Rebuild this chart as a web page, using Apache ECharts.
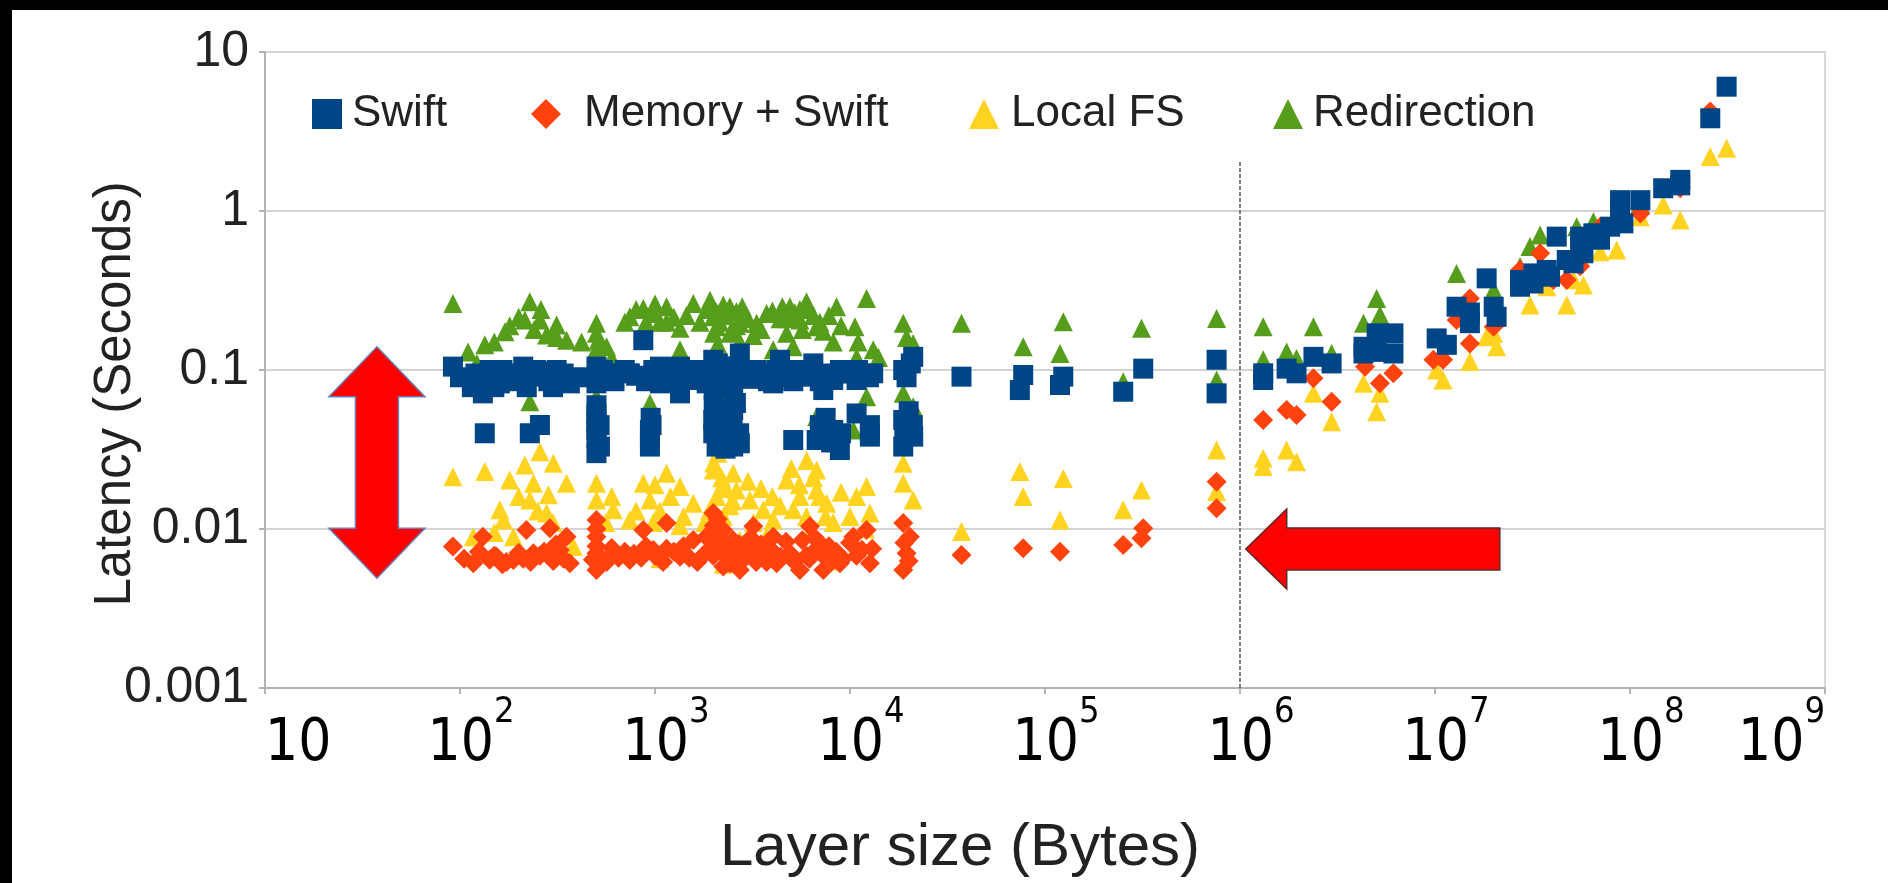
<!DOCTYPE html>
<html><head><meta charset="utf-8">
<script src="https://cdn.jsdelivr.net/npm/echarts@6/dist/echarts.min.js"></script>
<style>html,body{margin:0;padding:0;background:#fff;}#c{width:1888px;height:883px;}</style>
</head><body><div id="c"></div>
<script>
// ---------- data (x = layer size in bytes, y = latency in seconds) ----------
const seriesNames = ['Swift', 'Memory + Swift', 'Local FS', 'Redirection'];
const xTickBase = '10';
const xTickExponents = [1, 2, 3, 4, 5, 6, 7, 8, 9];
const yTickLabels = ['0.001', '0.01', '0.1', '1', '10'];

const swift = [
  [92,0.105],[126,0.0824],[142,0.1],[173,0.0908],[211,0.105],[257,0.0908],[313,0.1],[366,0.0824],[131,0.0713],[160,0.0824],
  [501,0.105],[501,0.0824],[565,0.0953],[743,0.0953],[871,0.154],[980,0.1],[1146,0.0908],[1343,0.105],[1572,0.0865],[1343,0.0713],
  [1990,0.116],[2239,0.0953],[2518,0.105],[2723,0.127],[3319,0.1],[4036,0.0824],[4920,0.1],[5984,0.0908],[7295,0.0748],[8872,0.1],
  [10810,0.0865],[13150,0.0953],[18750,0.1],[21090,0.121],[4375,0.116],[6486,0.11],[8204,0.0865],[1060,0.0824],[1841,0.0824],
  [160,0.095],[188,0.085],[238,0.092],[284,0.085],[330,0.09],[1300,0.095],[1572,0.1],[2070,0.09],[2421,0.085],[3069,0.088],
  [3589,0.095],[5117,0.085],[7015,0.095],[2239,0.075],[2518,0.08],[1060,0.105],
  [100,0.09],[115,0.078],[120,0.095],[150,0.078],[165,0.1],[195,0.095],[220,0.078],[245,0.1],[270,0.098],[300,0.078],
  [340,0.095],[400,0.09],[520,0.09],[540,0.1],[620,0.085],[700,0.1],[800,0.092],[900,0.085],[1000,0.092],[1100,0.098],
  [1200,0.085],[1400,0.09],[1700,0.092],[1900,0.1],[2000,0.075],[2100,0.11],[2300,0.085],[2400,0.105],[2600,0.092],[2800,0.1],
  [3000,0.1],[3300,0.09],[3800,0.085],[4200,0.1],[4500,0.092],[5000,0.09],[5500,0.1],[6000,0.1],[6500,0.092],[7000,0.085],
  [7800,0.09],[9500,0.095],[11000,0.1],[12500,0.09],[19500,0.09],[20500,0.11],
  [134,0.04],[228,0.04],[257,0.0451],[501,0.0533],[501,0.042],[522,0.033],[942,0.042],[942,0.033],[1990,0.0485],[2239,0.0381],
  [2518,0.056],[2723,0.0346],[2070,0.033],[5117,0.0363],[6745,0.0363],[8204,0.042],[8872,0.0314],[10810,0.0533],[12650,0.0381],
  [18750,0.0485],[21090,0.0381],[18750,0.033],[501,0.037],[501,0.047],[1990,0.04],[2239,0.045],[2518,0.033],[2070,0.055],
  [12650,0.045],[942,0.037],
  [501,0.03],[501,0.06],[520,0.045],[2000,0.06],[2100,0.036],[2200,0.05],[2300,0.032],[2400,0.04],[2500,0.047],[2600,0.062],
  [2700,0.04],[7000,0.045],[7500,0.05],[9000,0.04],[8000,0.035],[19000,0.04],[20000,0.055],[21000,0.045],[950,0.05],[960,0.045],
  [12650,0.04],
  [37300,0.0908],[77300,0.093],[74300,0.0748],[124100,0.0908],[119400,0.0805],[319000,0.102],[251800,0.073],[758600,0.116],
  [758600,0.0713],[1315000,0.0953],[1315000,0.0865],[1734000,0.102],[1950000,0.0953],
  [2380000,0.121],[2950000,0.11],[4300000,0.14],[5020000,0.17],[6120000,0.17],[6120000,0.127],[10200000,0.158],[11500000,0.144],
  [12900000,0.25],[15100000,0.197],[18400000,0.377],[20000000,0.25],[20700000,0.216],[27300000,0.368],[32000000,0.405],
  [37400000,0.426],[42100000,0.69],[47400000,0.492],[55500000,0.597],[55500000,0.69],[64900000,0.724],[79100000,0.797],
  [88900000,1.17],[88900000,0.92],[113000000,1.17],[148000000,1.39],[181000000,1.57],[258000000,3.83],[313000000,6.05],
  [38900000,0.386],[51300000,0.469],[92500000,0.836],[4300000,0.127],[5020000,0.13],[27300000,0.334],[32000000,0.35],
  [57700000,0.542],[70200000,0.66],[181000000,1.45],[15100000,0.23]
];

const memorySwift = [
  [92,0.00775],[117,0.00608],[131,0.00895],[154,0.0067],[188,0.00638],[219,0.00986],[238,0.00703],[289,0.0101],[325,0.00738],
  [366,0.00608],[352,0.00895],[501,0.0114],[501,0.00895],[501,0.00703],[501,0.00552],[611,0.00703],[743,0.00638],[871,0.00986],
  [980,0.00738],[1146,0.0109],[1343,0.0067],[1572,0.00853],[1990,0.0126],[2239,0.00986],[2070,0.00775],[2421,0.00608],
  [2723,0.00552],[3192,0.0104],[3452,0.00703],[4036,0.00895],[4920,0.00703],[5534,0.00552],[6237,0.0104],[7015,0.00813],
  [7295,0.00552],[8872,0.00608],[10400,0.00895],[12160,0.00986],[12650,0.00608],[18750,0.0109],[20280,0.00895],[19500,0.00703],
  [18750,0.00552],[4204,0.00608],[8204,0.00638],
  [142,0.0064],[173,0.0062],[211,0.0065],[257,0.0068],[301,0.0063],[1060,0.0065],[1146,0.0075],[1841,0.009],[1990,0.0068],
  [2239,0.0058],[2518,0.0085],[3069,0.0078],[3733,0.0062],[5984,0.0068],[6745,0.0075],[10810,0.0068],[565,0.0062],[871,0.0072],
  [105,0.0065],[125,0.0072],[150,0.0068],[165,0.006],[200,0.0071],[230,0.0062],[270,0.0072],[310,0.008],[340,0.0065],[480,0.0064],
  [501,0.0078],[501,0.01],[520,0.0062],[600,0.0076],[650,0.0066],[700,0.0072],[780,0.007],[850,0.0066],[900,0.0078],[1000,0.0068],
  [1100,0.0062],[1250,0.0072],[1400,0.0078],[1500,0.0066],[1650,0.0062],[1800,0.007],[1900,0.0085],[2000,0.0105],[2050,0.0095],
  [2100,0.0115],[2150,0.0088],[2200,0.0078],[2300,0.0068],[2400,0.0074],[2500,0.0063],[2600,0.007],[2700,0.008],[2900,0.0066],
  [3100,0.0088],[3300,0.0062],[3500,0.008],[3900,0.0075],[4400,0.0067],[4700,0.0083],[5200,0.0062],[5700,0.0085],[6200,0.0065],
  [6600,0.0088],[7200,0.0069],[7800,0.0078],[8500,0.0072],[9200,0.0065],[10000,0.0082],[11500,0.0074],[13000,0.0075],
  [19000,0.0082],[20000,0.0063],
  [37300,0.00686],[77300,0.00756],[119400,0.0072],[251800,0.00793],[319000,0.0101],[312600,0.00876],[758600,0.0198],
  [758600,0.0135],[1315000,0.0485],[1734000,0.056],[1950000,0.0522],
  [2380000,0.0887],[2950000,0.0632],[4380000,0.105],[5220000,0.0824],[6120000,0.0953],[9820000,0.116],[11000000,0.116],
  [12900000,0.206],[15100000,0.282],[15100000,0.147],[20000000,0.187],[34600000,0.542],[40500000,0.368],[47400000,0.368],
  [70200000,0.797],[113000000,0.966],[181000000,1.39],[258000000,4.22],[27300000,0.426],[55500000,0.45]
];

const localFS = [
  [92,0.0213],[134,0.023],[180,0.0203],[215,0.0253],[257,0.0306],[301,0.0259],[352,0.0194],[238,0.0194],[228,0.0152],[284,0.0164],
  [160,0.0132],[167,0.0114],[278,0.0126],[501,0.0194],[501,0.0152],[611,0.0132],[743,0.0114],[871,0.0194],[1146,0.0224],
  [942,0.0152],[1343,0.0185],[1572,0.0145],[1990,0.0235],[2239,0.0194],[2518,0.0224],[2618,0.0176],[3069,0.0152],[3589,0.0132],
  [4732,0.0203],[6745,0.0235],[6745,0.0176],[7586,0.0145],[10810,0.016],[12160,0.0185],[12650,0.0126],[18750,0.0259],
  [18750,0.0194],[21090,0.0152],[117,0.00895],[188,0.00895],[381,0.00775],[4036,0.0114],[5117,0.0132],
  [2070,0.016],[2421,0.014],[1060,0.013],[2239,0.012],[5534,0.016],[5984,0.012],[8204,0.011],[3192,0.011],[6237,0.0095],
  [980,0.011],[1343,0.0105],[2723,0.0085],[3733,0.009],[4375,0.014],[1060,0.0065],[2239,0.006],[8204,0.0063],
  [2000,0.026],[2100,0.03],[2200,0.021],[2300,0.018],[1900,0.013],[2500,0.015],[6000,0.027],[6500,0.021],[7000,0.016],
  [7500,0.012],[5000,0.024],[5500,0.019],[1000,0.019],[1200,0.016],[1400,0.012],[1800,0.011],[800,0.013],[600,0.016],
  [560,0.011],[300,0.011],[250,0.013],[200,0.016],[150,0.0095],[3500,0.018],[4000,0.016],[3000,0.02],[9000,0.017],
  [10000,0.012],[12000,0.01],
  [37300,0.00963],[74300,0.023],[77300,0.016],[124100,0.0208],[119400,0.0114],[312600,0.0176],[251800,0.0132],[758600,0.0314],
  [758600,0.0172],[1315000,0.0279],[1315000,0.0247],[1734000,0.0314],[1950000,0.0265],
  [2380000,0.0713],[2950000,0.0473],[4300000,0.0824],[5020000,0.0547],[5220000,0.0713],[10200000,0.1],[11000000,0.0865],
  [15100000,0.113],[18400000,0.162],[20700000,0.14],[30700000,0.256],[37400000,0.334],[47400000,0.256],[57700000,0.343],
  [70200000,0.555],[85500000,0.569],[113000000,0.92],[148000000,1.09],[181000000,0.877],[258000000,2.2],[313000000,2.48],
  [20000000,0.17],[51300000,0.37]
];

const redirection = [
  [92,0.262],[228,0.269],[134,0.144],[170,0.174],[215,0.206],[257,0.206],[313,0.192],[278,0.166],[352,0.154],[501,0.197],
  [511,0.154],[599,0.118],[743,0.216],[871,0.244],[980,0.227],[1146,0.25],[1343,0.183],[1572,0.262],[1914,0.275],[2239,0.256],
  [2618,0.233],[2070,0.187],[2421,0.17],[3319,0.197],[3733,0.227],[4920,0.25],[5984,0.269],[5534,0.206],[6745,0.187],[8531,0.25],
  [10600,0.187],[12160,0.282],[13150,0.134],[18750,0.197],[21090,0.147],
  [228,0.0632],[942,0.0617],[6745,0.0508],[12160,0.068],[18750,0.0713],[21090,0.0588],[2518,0.0713],[10400,0.042],[122,0.11],
  [501,0.068],[1343,0.134],[4036,0.134],[5117,0.14],
  [1990,0.216],[2723,0.197],[2070,0.23],[2618,0.19],[3192,0.165],[4375,0.21],[5534,0.24],[6486,0.22],[7295,0.175],[1060,0.2],
  [313,0.16],[180,0.19],[1146,0.2],[1841,0.24],[2421,0.25],[565,0.14],[2723,0.15],[4732,0.17],[8204,0.15],[10810,0.12],
  [110,0.13],[150,0.15],[200,0.215],[240,0.18],[260,0.24],[300,0.17],[420,0.15],[501,0.17],[501,0.135],[700,0.2],[800,0.24],
  [900,0.2],[1000,0.26],[1250,0.215],[1450,0.22],[1700,0.2],[1950,0.25],[2000,0.17],[2100,0.145],[2150,0.2],[2300,0.22],
  [2500,0.18],[2800,0.25],[3000,0.21],[3500,0.18],[4000,0.235],[4500,0.25],[4800,0.21],[5200,0.23],[5700,0.18],[6200,0.24],
  [7000,0.2],[7800,0.22],[9000,0.19],[11000,0.15],[14000,0.12],[19500,0.16],[20500,0.13],
  [37300,0.197],[77300,0.14],[124100,0.201],[119400,0.127],[312600,0.183],[758600,0.211],[758600,0.0865],[251800,0.0845],
  [1315000,0.187],[1315000,0.116],[1734000,0.13],[1950000,0.118],
  [2380000,0.187],[2950000,0.127],[4300000,0.197],[5020000,0.282],[5220000,0.222],[12900000,0.405],[20000000,0.318],
  [30700000,0.597],[34600000,0.706],[53300000,0.797],[64900000,0.857],[113000000,1.12],[82200000,0.877],[27300000,0.447]
];

// annotation anchors (data space)
const dividerX = 1e6, dividerTop = 2.03;
const vArrowX = 37.5, vArrowTop = 0.14, vArrowBottom = 0.0049;
const hArrowY = 0.00748, hArrowTip = 1.07e6, hArrowTail = 2.15e7;

// ---------- chart ----------
const colors = { 'Swift': '#004586', 'Memory + Swift': '#ff420e', 'Local FS': '#ffd320', 'Redirection': '#579d1c' };
const symbols = { 'Swift': 'rect', 'Memory + Swift': 'diamond', 'Local FS': 'triangle', 'Redirection': 'triangle' };
const sizes = { 'Swift': 20, 'Memory + Swift': 20, 'Local FS': 19, 'Redirection': 19 };
const seriesData = { 'Swift': swift, 'Memory + Swift': memorySwift, 'Local FS': localFS, 'Redirection': redirection };

const chart = echarts.init(document.getElementById('c'));
const FONT = 'Liberation Sans';
const legendPos = [
  { name: 'Swift', left: 307, pad: 5 },
  { name: 'Memory + Swift', left: 526, pad: 18 },
  { name: 'Local FS', left: 964, pad: 7 },
  { name: 'Redirection', left: 1268, pad: 5 }
];

const drawOrder = ['Redirection', 'Local FS', 'Memory + Swift', 'Swift'];
const series = drawOrder.map(function (n) {
  const s = {
    name: n, type: 'scatter', data: seriesData[n], symbol: symbols[n], symbolSize: sizes[n],
    itemStyle: { color: colors[n], opacity: 1 }, emphasis: { disabled: true }
  };
  if (n === 'Swift') {
    s.markLine = {
      silent: true, symbol: 'none', label: { show: false },
      lineStyle: { color: '#555', width: 1.5, type: [4, 2] },
      data: [[{ coord: [dividerX, dividerTop] }, { coord: [dividerX, 0.001] }]]
    };
  }
  return s;
});

chart.setOption({
  animation: false,
  backgroundColor: '#fff',
  grid: { left: 265, right: 63, top: 52, bottom: 195, show: true, borderColor: '#d9d9d9', borderWidth: 2, outerBoundsMode: 'none' },
  legend: legendPos.map(function (l) {
    return {
      data: [l.name], left: l.left, top: 87, itemWidth: 30, itemHeight: 30, icon: symbols[l.name],
      selectedMode: false,
      textStyle: { fontFamily: FONT, fontSize: 44, lineHeight: 44, color: '#222', padding: [0, 0, 0, l.pad] }
    };
  }),
  xAxis: {
    type: 'log', logBase: 10, min: 10, max: 1e9, splitNumber: 8,
    name: 'Layer size (Bytes)', nameLocation: 'middle', nameGap: 130,
    nameTextStyle: { fontFamily: FONT, fontSize: 60, color: '#222', padding: [0, 170, 0, 0] },
    axisLine: { lineStyle: { color: '#b3b3b3', width: 2 } },
    axisTick: { show: true, length: 6, lineStyle: { color: '#b3b3b3', width: 2 } },
    splitLine: { show: false },
    minorTick: { show: false },
    axisLabel: {
      margin: 7, alignMinLabel: 'left', alignMaxLabel: 'right',
      formatter: function (v) {
        const e = Math.round(Math.log10(v));
        if (xTickExponents.indexOf(e) < 0) return '';
        if (e === 1) return '{b|' + xTickBase + '}';
        return '{m|' + xTickBase + '}{s|' + e + '}';
      },
      rich: {
        b: { fontFamily: 'DejaVu Sans Condensed', fontSize: 58, lineHeight: 100, color: '#000' },
        m: { fontFamily: 'DejaVu Sans Condensed', fontSize: 58, lineHeight: 100, color: '#000', padding: [0, 0, 0, 22] },
        s: { fontFamily: 'DejaVu Sans Condensed', fontSize: 36, lineHeight: 36, verticalAlign: 'top', color: '#000' }
      }
    }
  },
  yAxis: {
    type: 'log', logBase: 10, min: 0.001, max: 10, splitNumber: 4,
    name: 'Latency (Seconds)', nameLocation: 'middle', nameGap: 124, nameMoveOverlap: false,
    nameTextStyle: { fontFamily: FONT, fontSize: 51, color: '#222', padding: [0, 48, 0, 0] },
    axisLine: { show: true, lineStyle: { color: '#b3b3b3', width: 2 } },
    axisTick: { show: true, length: 6, lineStyle: { color: '#b3b3b3', width: 2 } },
    splitLine: { show: true, lineStyle: { color: '#d4d4d4', width: 2 } },
    axisLabel: {
      margin: 16, fontFamily: FONT, fontSize: 50, color: '#222',
      formatter: function (v) {
        const i = Math.round(Math.log10(v)) + 3;
        return yTickLabels[i] !== undefined ? yTickLabels[i] : '';
      }
    }
  },
  series: series
});

function px(x, y) { return chart.convertToPixel({ gridIndex: 0 }, [x, y]); }
const vt = px(vArrowX, vArrowTop), vb = px(vArrowX, vArrowBottom);
const cx = vt[0], hw = 48, sw = 21.5, hh = 50;
const vPoly = [
  [cx, vt[1]], [cx + hw, vt[1] + hh], [cx + sw, vt[1] + hh], [cx + sw, vb[1] - hh], [cx + hw, vb[1] - hh],
  [cx, vb[1]], [cx - hw, vb[1] - hh], [cx - sw, vb[1] - hh], [cx - sw, vt[1] + hh], [cx - hw, vt[1] + hh]
];
const ht = px(hArrowTip, hArrowY), hl = px(hArrowTail, hArrowY);
const cy = ht[1], hhw = 40, hsw = 21, hlen = 41;
const hPoly = [
  [ht[0], cy], [ht[0] + hlen, cy - hhw], [ht[0] + hlen, cy - hsw], [hl[0], cy - hsw], [hl[0], cy + hsw],
  [ht[0] + hlen, cy + hsw], [ht[0] + hlen, cy + hhw]
];

chart.setOption({
  graphic: [
    { type: 'rect', shape: { x: 0, y: 0, width: 1888, height: 10 }, style: { fill: '#000' }, z: 100 },
    { type: 'rect', shape: { x: 0, y: 0, width: 12, height: 883 }, style: { fill: '#000' }, z: 100 },
    { type: 'polygon', shape: { points: vPoly }, style: { fill: '#ff0000', stroke: '#6a7fb0', lineWidth: 1.5 }, z: 50 },
    { type: 'polygon', shape: { points: hPoly }, style: { fill: '#ff0000', stroke: '#5a2a2a', lineWidth: 1.5 }, z: 50 }
  ]
});
</script>
</body></html>
